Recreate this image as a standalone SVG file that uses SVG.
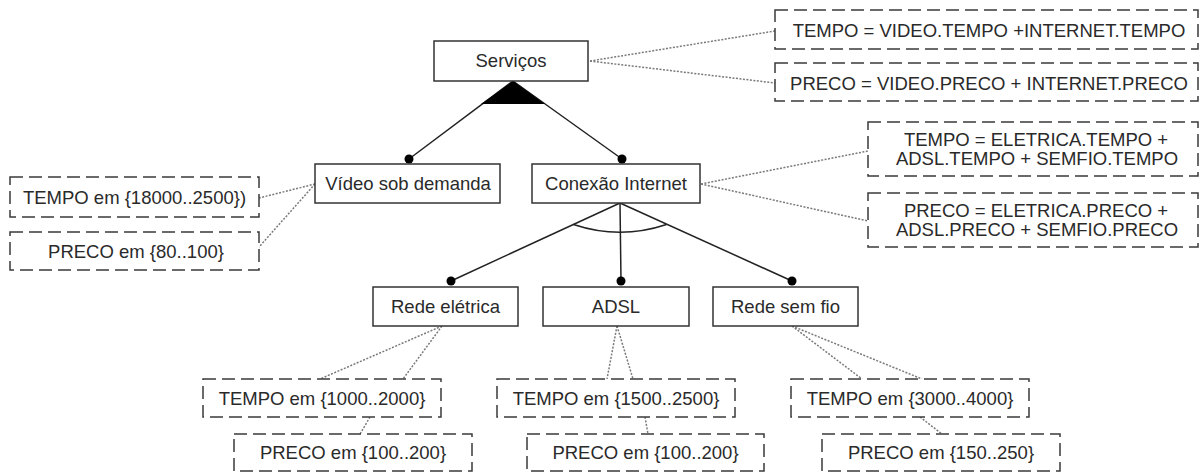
<svg xmlns="http://www.w3.org/2000/svg" width="1201" height="472" viewBox="0 0 1201 472">
<style>
.node{fill:#fff;stroke:#333;stroke-width:1.5}
.attr{fill:#fff;stroke:#3a3a3a;stroke-width:1.5;stroke-dasharray:13 6}
.t{font-family:"Liberation Sans",Arial,sans-serif;font-size:18.5px;fill:#2a2a2a;text-anchor:middle}
.edge{stroke:#222;stroke-width:1.5;fill:none}
.dot{fill:#000}
.link{stroke:#7a7a7a;stroke-width:1.5;stroke-dasharray:2 1.5;fill:none}
</style>
<rect width="1201" height="472" fill="#fff"/>
<g id="connectors">
<line class="edge" x1="513" y1="81" x2="409" y2="159"/>
<line class="edge" x1="513" y1="81" x2="622" y2="159"/>
<polygon points="513,81 481,104 545,104" fill="#000"/>
<circle class="dot" cx="409" cy="159" r="4.5"/>
<circle class="dot" cx="622" cy="159" r="4.5"/>
<line class="edge" x1="620" y1="203" x2="451" y2="281"/>
<line class="edge" x1="620" y1="203" x2="621" y2="281"/>
<line class="edge" x1="620" y1="203" x2="792" y2="281"/>
<path class="edge" d="M573.5,224.5 Q620,240 666.5,224.5"/>
<circle class="dot" cx="451" cy="281" r="4.5"/>
<circle class="dot" cx="621" cy="281" r="4.5"/>
<circle class="dot" cx="792" cy="281" r="4.5"/>
<line class="link" x1="590" y1="61" x2="775" y2="31"/>
<line class="link" x1="590" y1="61" x2="775" y2="83"/>
<line class="link" x1="315" y1="184" x2="259" y2="198"/>
<line class="link" x1="315" y1="184" x2="259" y2="247"/>
<line class="link" x1="701" y1="184" x2="868" y2="151"/>
<line class="link" x1="701" y1="184" x2="868" y2="221"/>
<line class="link" x1="442" y1="326" x2="320" y2="379"/>
<line class="link" x1="442" y1="326" x2="403" y2="379"/>
<line class="link" x1="370" y1="417" x2="360" y2="434"/>
<line class="link" x1="617" y1="326" x2="607" y2="379"/>
<line class="link" x1="617" y1="326" x2="633" y2="379"/>
<line class="link" x1="645" y1="417" x2="648" y2="434"/>
<line class="link" x1="792" y1="326" x2="862" y2="379"/>
<line class="link" x1="792" y1="326" x2="922" y2="379"/>
<line class="link" x1="920" y1="417" x2="942" y2="434"/>
</g>
<g id="servicos"><rect class="node" x="434" y="41" width="154" height="40"/><text class="t" x="511" y="67">Serviços</text></g>
<g id="servicos-tempo"><rect class="attr" x="775" y="10" width="423" height="39"/><text class="t" x="989" y="37">TEMPO = VIDEO.TEMPO +INTERNET.TEMPO</text></g>
<g id="servicos-preco"><rect class="attr" x="775" y="63" width="423" height="38"/><text class="t" x="989" y="90">PRECO = VIDEO.PRECO + INTERNET.PRECO</text></g>
<g id="video"><rect class="node" x="315" y="164" width="185" height="39"/><text class="t" x="408" y="190">Vídeo sob demanda</text></g>
<g id="video-tempo"><rect class="attr" x="10" y="177" width="249" height="40"/><text class="t" x="134.5" y="204">TEMPO em {18000..2500})</text></g>
<g id="video-preco"><rect class="attr" x="10" y="232" width="249" height="38"/><text class="t" x="136" y="258">PRECO em {80..100}</text></g>
<g id="conexao"><rect class="node" x="532" y="164" width="168" height="39"/><text class="t" x="616" y="190">Conexão Internet</text></g>
<g id="conexao-tempo"><rect class="attr" x="868" y="122" width="330" height="54"/><text class="t" x="1036" y="146">TEMPO = ELETRICA.TEMPO +</text><text class="t" x="1037" y="165">ADSL.TEMPO + SEMFIO.TEMPO</text></g>
<g id="conexao-preco"><rect class="attr" x="868" y="193" width="330" height="54"/><text class="t" x="1036" y="217">PRECO = ELETRICA.PRECO +</text><text class="t" x="1037" y="236">ADSL.PRECO + SEMFIO.PRECO</text></g>
<g id="rede-eletrica"><rect class="node" x="373" y="287" width="145" height="39"/><text class="t" x="445.5" y="313">Rede elétrica</text></g>
<g id="adsl"><rect class="node" x="543" y="287" width="146" height="39"/><text class="t" x="616" y="313">ADSL</text></g>
<g id="rede-sem-fio"><rect class="node" x="713" y="287" width="145" height="39"/><text class="t" x="785.5" y="313">Rede sem fio</text></g>
<g id="eletrica-tempo"><rect class="attr" x="203" y="379" width="238" height="38"/><text class="t" x="322" y="405">TEMPO em {1000..2000}</text></g>
<g id="eletrica-preco"><rect class="attr" x="234" y="434" width="238" height="37"/><text class="t" x="353" y="459">PRECO em {100..200}</text></g>
<g id="adsl-tempo"><rect class="attr" x="497" y="379" width="238" height="38"/><text class="t" x="616" y="405">TEMPO em {1500..2500}</text></g>
<g id="adsl-preco"><rect class="attr" x="527" y="434" width="237" height="37"/><text class="t" x="645.5" y="459">PRECO em {100..200}</text></g>
<g id="semfio-tempo"><rect class="attr" x="791" y="379" width="238" height="38"/><text class="t" x="910" y="405">TEMPO em {3000..4000}</text></g>
<g id="semfio-preco"><rect class="attr" x="822" y="434" width="238" height="37"/><text class="t" x="941" y="459">PRECO em {150..250}</text></g>
</svg>
